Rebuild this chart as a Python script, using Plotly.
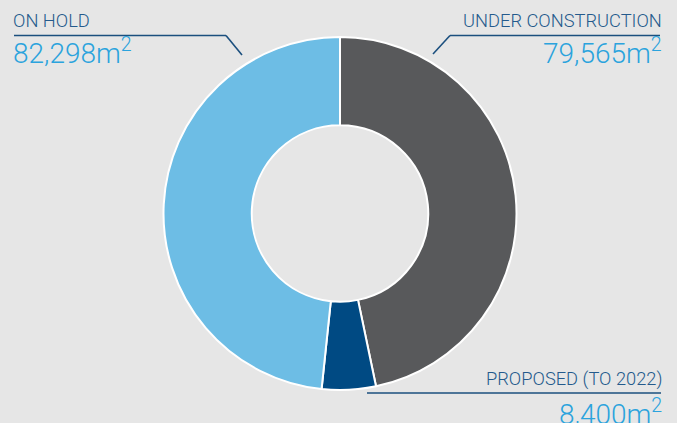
import plotly.graph_objects as go

# Floor space by development status (square metres)
categories = ["UNDER CONSTRUCTION", "PROPOSED (TO 2022)", "ON HOLD"]
areas = [79565, 8400, 82298]
slice_colors = ["#58595b", "#004a83", "#6dbde5"]

W, H = 677, 423
BG = "#e6e6e6"
LABEL_COLOR = "#245a8c"
VALUE_COLOR = "#2ba3dd"
LINE_COLOR = "#1b4f7e"


def px(x):
    return x / W


def py(y):
    return 1 - y / H


fig = go.Figure(
    go.Pie(
        labels=categories,
        values=areas,
        hole=0.5,
        sort=False,
        direction="clockwise",
        rotation=0,
        textinfo="none",
        hoverinfo="label+value",
        marker=dict(colors=slice_colors, line=dict(color="white", width=2)),
        domain=dict(x=[px(163), px(517)], y=[py(390), py(37)]),
        showlegend=False,
    )
)


def fmt(v):
    return f"{v:,}m<sup>2</sup>"


# label / value annotation placement: (category index, x, anchor, label y, value y)
placements = [
    (2, 11, "left", 21, 52),
    (0, 664, "right", 21, 52),
    (1, 664, "right", 379, 412),
]

annotations = []
for idx, x, anchor, ly, vy in placements:
    annotations.append(dict(
        x=px(x), y=py(ly), xref="paper", yref="paper",
        xanchor=anchor, yanchor="middle", showarrow=False,
        text=categories[idx],
        font=dict(family="Roboto", size=18.3, color=LABEL_COLOR, weight=300),
    ))
    annotations.append(dict(
        x=px(x), y=py(vy), xref="paper", yref="paper",
        xanchor=anchor, yanchor="middle", showarrow=False,
        text=fmt(areas[idx]),
        font=dict(family="Roboto", size=28, color=VALUE_COLOR, weight=300),
    ))

# leader lines (pixel coordinates converted to paper space)
leaders = [
    [(14, 35.5), (226, 35.5), (242, 55)],
    [(660, 35.5), (450, 35.5), (433, 54)],
    [(367, 393), (661, 393)],
]
shapes = []
for pts in leaders:
    for (x0, y0), (x1, y1) in zip(pts[:-1], pts[1:]):
        shapes.append(dict(
            type="line", xref="paper", yref="paper",
            x0=px(x0), y0=py(y0), x1=px(x1), y1=py(y1),
            line=dict(color=LINE_COLOR, width=1.6),
        ))

fig.update_layout(
    width=W, height=H,
    margin=dict(l=0, r=0, t=0, b=0),
    paper_bgcolor=BG, plot_bgcolor=BG,
    annotations=annotations,
    shapes=shapes,
)

fig.write_html("out.html")
